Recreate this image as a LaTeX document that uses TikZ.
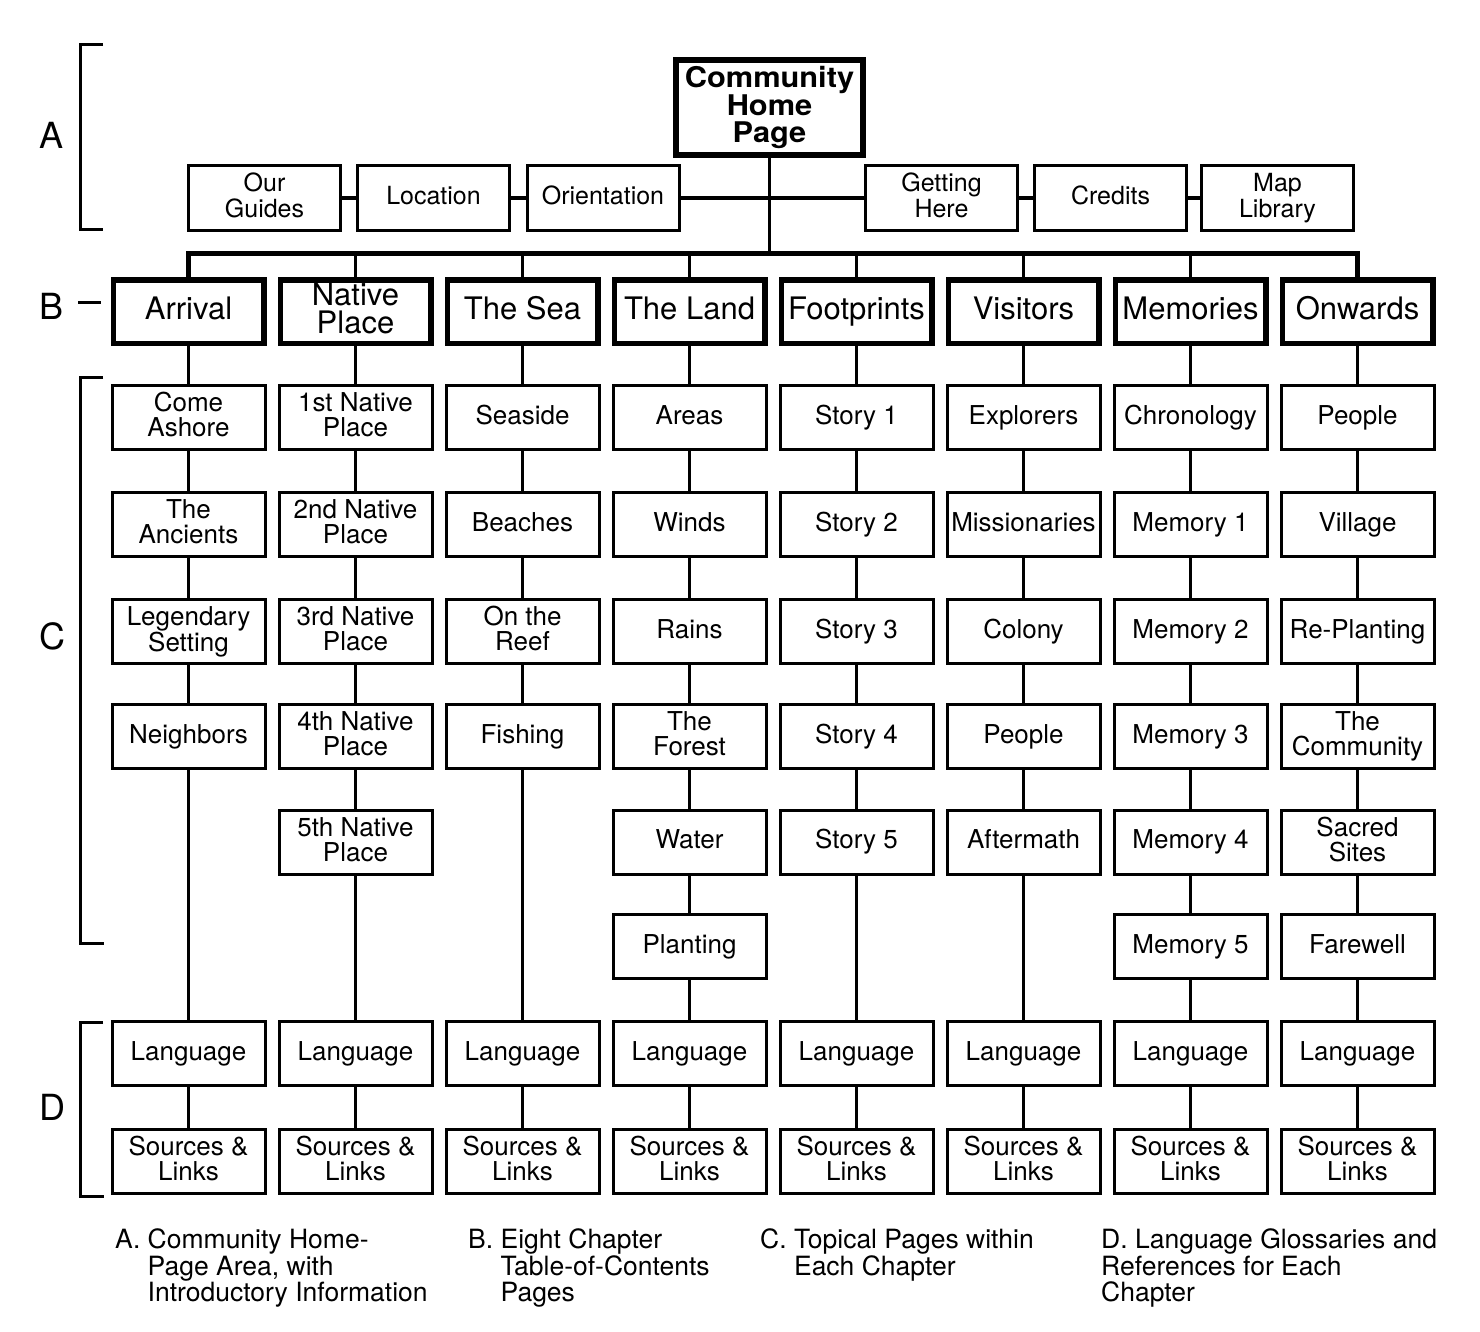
\documentclass[tikz,border=0pt]{standalone}
\usepackage{fontspec}
\setmainfont{TeX Gyre Heros}
\newfontfamily\homefont[FakeStretch=1.08]{TeX Gyre Heros}
\begin{document}
\begin{tikzpicture}[x=1pt,y=-1pt,
  box/.style={draw,line width=3pt,minimum width=153pt,minimum height=64pt,inner sep=1pt,align=center,font=\fontsize{26}{25}\selectfont,
    execute at begin node={\vphantom{Ag}}, execute at end node={\vphantom{Ag}}},
  chap/.style={draw,line width=5.5pt,minimum width=150.5pt,minimum height=63.5pt,inner sep=1pt,align=center,font=\fontsize{31}{28}\selectfont,
    execute at begin node={\vphantom{Ag}}, execute at end node={\vphantom{Ag}}},
  abox/.style={box,minimum width=152pt,minimum height=65pt,font=\fontsize{25}{26.5}\selectfont},
  home/.style={draw,line width=6pt,minimum width=187pt,minimum height=95pt,inner sep=1pt,align=center,font=\homefont\fontsize{28.5}{26.8}\selectfont\bfseries},
  link/.style={line width=3.5pt},
  bus/.style={line width=5pt},
  brk/.style={line width=3pt},
  lbl/.style={font=\fontsize{36}{36}\selectfont,inner sep=0pt},
  capt/.style={anchor=base west,inner sep=0pt,align=left,font=\fontsize{26.5}{26.5}\selectfont}]
\useasboundingbox (0,0) rectangle (1480,1331);
\fill[white] (0,0) rectangle (1480,1331);

% ---------- A area ----------
\node[home] (chp) at (769.5,107.5) {Community\\Home\\Page};
\node[abox] (og)  at (264.5,198) {Our\\Guides};
\node[abox] (loc) at (433.5,198) {Location};
\node[abox] (ori) at (603,198) {Orientation};
\node[abox] (gh)  at (941.5,198) {Getting\\Here};
\node[abox] (cr)  at (1110.5,198) {Credits};
\node[abox] (ml)  at (1277.5,198) {Map\\Library};
\draw[link] (og) -- (loc);
\draw[link] (loc) -- (ori);
\draw[link] (ori) -- (gh);
\draw[link] (gh) -- (cr);
\draw[link] (cr) -- (ml);

% ---------- B row ----------
\node[chap] (b0) at (188.5,311.5) {Arrival};
\node[chap] (b1) at (355.5,311.5) {Native\\Place};
\node[chap] (b2) at (522.5,311.5) {The Sea};
\node[chap] (b3) at (689.5,311.5) {The Land};
\node[chap] (b4) at (856.5,311.5) {Footprints};
\node[chap] (b5) at (1023.5,311.5) {Visitors};
\node[chap] (b6) at (1190.5,311.5) {Memories};
\node[chap] (b7) at (1357.5,311.5) {Onwards};

\coordinate (bj) at (769.5,253);
\draw[link] (chp) -- (bj);
\draw[bus] (b0.north) -- (b0.north |- bj) -- (b7.north |- bj) -- (b7.north);
\foreach \k in {1,...,6} \draw[link] (b\k.north |- bj) -- (b\k.north);

% ---------- C rows ----------
% column 0
\node[box] (c0-1) at (188.5,417.5) {Come\\Ashore};
\node[box] (c0-2) at (188.5,524.5) {The\\Ancients};
\node[box] (c0-3) at (188.5,631.5) {Legendary\\Setting};
\node[box] (c0-4) at (188.5,736.5) {Neighbors};
% column 1
\node[box] (c1-1) at (355.5,417.5) {1st Native\\Place};
\node[box] (c1-2) at (355.5,524.5) {2nd Native\\Place};
\node[box] (c1-3) at (355.5,631.5) {3rd Native\\Place};
\node[box] (c1-4) at (355.5,736.5) {4th Native\\Place};
\node[box] (c1-5) at (355.5,842) {5th Native\\Place};
% column 2
\node[box] (c2-1) at (522.5,417.5) {Seaside};
\node[box] (c2-2) at (522.5,524.5) {Beaches};
\node[box] (c2-3) at (522.5,631.5) {On the\\Reef};
\node[box] (c2-4) at (522.5,736.5) {Fishing};
% column 3
\node[box] (c3-1) at (689.5,417.5) {Areas};
\node[box] (c3-2) at (689.5,524.5) {Winds};
\node[box] (c3-3) at (689.5,631.5) {Rains};
\node[box] (c3-4) at (689.5,736.5) {The\\Forest};
\node[box] (c3-5) at (689.5,842) {Water};
\node[box] (c3-6) at (689.5,946.5) {Planting};
% column 4
\node[box] (c4-1) at (856.5,417.5) {Story 1};
\node[box] (c4-2) at (856.5,524.5) {Story 2};
\node[box] (c4-3) at (856.5,631.5) {Story 3};
\node[box] (c4-4) at (856.5,736.5) {Story 4};
\node[box] (c4-5) at (856.5,842) {Story 5};
% column 5
\node[box] (c5-1) at (1023.5,417.5) {Explorers};
\node[box] (c5-2) at (1023.5,524.5) {Missionaries};
\node[box] (c5-3) at (1023.5,631.5) {Colony};
\node[box] (c5-4) at (1023.5,736.5) {People};
\node[box] (c5-5) at (1023.5,842) {Aftermath};
% column 6
\node[box] (c6-1) at (1190.5,417.5) {Chronology};
\node[box] (c6-2) at (1190.5,524.5) {Memory 1};
\node[box] (c6-3) at (1190.5,631.5) {Memory 2};
\node[box] (c6-4) at (1190.5,736.5) {Memory 3};
\node[box] (c6-5) at (1190.5,842) {Memory 4};
\node[box] (c6-6) at (1190.5,946.5) {Memory 5};
% column 7
\node[box] (c7-1) at (1357.5,417.5) {People};
\node[box] (c7-2) at (1357.5,524.5) {Village};
\node[box] (c7-3) at (1357.5,631.5) {Re-Planting};
\node[box] (c7-4) at (1357.5,736.5) {The\\Community};
\node[box] (c7-5) at (1357.5,842) {Sacred\\Sites};
\node[box] (c7-6) at (1357.5,946.5) {Farewell};

% ---------- D rows ----------
\foreach \k/\x in {0/188.5,1/355.5,2/522.5,3/689.5,4/856.5,5/1023.5,6/1190.5,7/1357.5}{
  \node[box] (l\k) at (\x,1053.5) {Language};
  \node[box] (s\k) at (\x,1161) {Sources \&\\Links};
}

% ---------- column connectors ----------
\draw[link] (b0) -- (c0-1) -- (c0-2) -- (c0-3) -- (c0-4) -- (l0) -- (s0);
\draw[link] (b1) -- (c1-1) -- (c1-2) -- (c1-3) -- (c1-4) -- (c1-5) -- (l1) -- (s1);
\draw[link] (b2) -- (c2-1) -- (c2-2) -- (c2-3) -- (c2-4) -- (l2) -- (s2);
\draw[link] (b3) -- (c3-1) -- (c3-2) -- (c3-3) -- (c3-4) -- (c3-5) -- (c3-6) -- (l3) -- (s3);
\draw[link] (b4) -- (c4-1) -- (c4-2) -- (c4-3) -- (c4-4) -- (c4-5) -- (l4) -- (s4);
\draw[link] (b5) -- (c5-1) -- (c5-2) -- (c5-3) -- (c5-4) -- (c5-5) -- (l5) -- (s5);
\draw[link] (b6) -- (c6-1) -- (c6-2) -- (c6-3) -- (c6-4) -- (c6-5) -- (c6-6) -- (l6) -- (s6);
\draw[link] (b7) -- (c7-1) -- (c7-2) -- (c7-3) -- (c7-4) -- (c7-5) -- (c7-6) -- (l7) -- (s7);

% ---------- brackets and letters ----------
\draw[brk] (103,44) -- (80,44) -- (80,229) -- (103,229);
\draw[brk] (78,302) -- (101,302);
\draw[brk] (103,377) -- (80,377) -- (80,943) -- (104,943);
\draw[brk] (103,1022) -- (80,1022) -- (80,1196) -- (104,1196);
\node[lbl] (la) at (52,135) {A};
\node[lbl] (lb) at (52,306) {B};
\node[lbl] (lc) at (52,636) {C};
\node[lbl] (ld) at (52,1107) {D};

% ---------- captions (anchored at the baseline of the last line) ----------
\node[capt] (capa) at (115,1301.5) {A. Community Home-\\\phantom{A. }Page Area, with\\\phantom{A. }Introductory Information};
\node[capt] (capb) at (468,1301.5) {B. Eight Chapter\\\phantom{B. }Table-of-Contents\\\phantom{B. }Pages};
\node[capt] (capc) at (760,1275) {C. Topical Pages within\\\phantom{C. }Each Chapter};
\node[capt] (capd) at (1101,1301.5) {D. Language Glossaries and\\References for Each\\Chapter};
\end{tikzpicture}
\end{document}
